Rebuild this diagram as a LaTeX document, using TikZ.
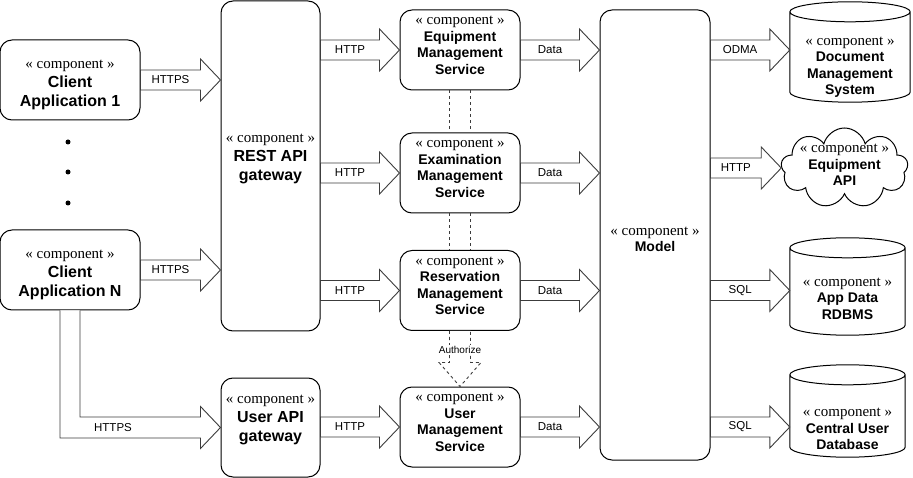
\documentclass[tikz,border=0pt]{standalone}
\usepackage{fontspec}
\setmainfont{Liberation Sans}
\newfontfamily\stereofont{Liberation Serif}
\usetikzlibrary{shapes.symbols, calc, positioning}

\definecolor{arrowgray}{RGB}{60,60,60}

\newcommand{\stereo}{{\normalfont\stereofont\fontsize{15}{17}\selectfont « component »}}

% hollow block arrow: start, tip, label
\newcommand{\blockarrow}[3]{%
  \draw[blockline] let \p1=(#1), \p2=(#2) in
    (\x1,\y1+10pt) -- (\x2-20pt,\y1+10pt) -- (\x2-20pt,\y1+21pt) -- (\x2,\y1)
    -- (\x2-20pt,\y1-21pt) -- (\x2-20pt,\y1-10pt) -- (\x1,\y1-10pt) -- cycle
    ({(\x1+\x2-20pt)/2},\y1) node[arrowlabel] {#3};
}

% database outline round a node
\newcommand{\dbshape}[1]{%
  \draw[dbline] let \p1=(#1.north west), \p2=(#1.south east), \n1={(\x2-\x1)/2} in
    (\x1,\y1-10pt) -- (\x1,\y2+10pt) arc[start angle=180, end angle=360, x radius={\n1*1pt}, y radius=10pt]
    -- (\x2,\y1-10pt) arc[start angle=0, end angle=180, x radius={\n1*1pt}, y radius=10pt] -- cycle
    (\x1,\y1-10pt) arc[start angle=180, end angle=360, x radius={\n1*1pt}, y radius=10pt];
}

\tikzset{
  comp/.style={draw, rounded corners=12pt, inner sep=0pt, align=center, line width=1pt, fill=white},
  bigfont/.style={font=\fontsize{16}{19}\selectfont\bfseries},
  svcfont/.style={font=\fontsize{14}{16.5}\selectfont\bfseries},
  dbnode/.style={inner sep=0pt, align=center, svcfont},
  dbline/.style={draw, line width=1pt},
  blockline/.style={draw=arrowgray, line width=0.9pt, fill=white, line join=miter},
  arrowlabel/.style={font=\fontsize{11.5}{13}\selectfont, inner sep=0pt},
  dashline/.style={draw=arrowgray, line width=0.9pt, dash pattern=on 3pt off 3pt},
  dot/.style={circle, fill, inner sep=0pt, minimum size=5pt},
}

\begin{document}
\begin{tikzpicture}[x=1pt, y=-1pt]
  \useasboundingbox (0,0) rectangle (913,478);

  % Clients
  \node[comp, bigfont, minimum width=140pt, minimum height=80pt, text height=57pt] (c1) at (70,80) {\stereo\\Client\\Application 1};
  \node[comp, bigfont, minimum width=140pt, minimum height=80pt, text height=57pt] (cN) at (70,270) {\stereo\\Client\\Application N};
  \node[dot] (dot1) at (68,142) {};
  \node[dot] (dot2) at (68,172) {};
  \node[dot] (dot3) at (68,203) {};

  % Gateways
  \node[comp, bigfont, minimum width=99pt, minimum height=330pt, text depth=18pt] (gw) at (270.5,166) {\stereo\\REST API\\gateway};
  \node[comp, bigfont, minimum width=99pt, minimum height=99pt, text depth=18pt] (ugw) at (270.5,427.5) {\stereo\\User API\\gateway};

  % Services
  \node[comp, svcfont, minimum width=120pt, minimum height=80pt, text depth=9pt] (eq) at (460,50) {\stereo\\Equipment\\Management\\Service};
  \node[comp, svcfont, minimum width=120pt, minimum height=80pt, text depth=9pt] (ex) at (460,173) {\stereo\\Examination\\Management\\Service};
  \node[comp, svcfont, minimum width=120pt, minimum height=80pt, text depth=9pt] (res) at (460,290.5) {\stereo\\Reservation\\Management\\Service};
  \node[comp, svcfont, minimum width=120pt, minimum height=80pt, text depth=9pt] (usr) at (460,427) {\stereo\\User\\Management\\Service};

  % Model
  \node[comp, svcfont, minimum width=110pt, minimum height=450pt, text height=34pt] (model) at (655,235) {\stereo\\Model};

  % Back ends
  \node[dbnode, minimum width=120pt, minimum height=100pt, text height=88pt] (dms) at (850,52) {\stereo\\Document\\Management\\System};
  \dbshape{dms}
  \node[cloud, draw, cloud puffs=9, aspect=1.7, minimum width=127pt, minimum height=80pt, inner sep=0pt, line width=1pt,
    label={[svcfont, align=center, inner sep=0pt, yshift=3pt]center:{\stereo\\Equipment\\API}}] (api) at (844.5,168) {};
  \node[dbnode, minimum width=115pt, minimum height=97pt, text height=66pt] (rdbms) at (847.5,286.5) {\stereo\\App Data\\RDBMS};
  \dbshape{rdbms}
  \node[dbnode, minimum width=115pt, minimum height=92pt, text height=78pt] (cudb) at (847.5,411) {\stereo\\Central User\\Database};
  \dbshape{cudb}

  % Client links
  \blockarrow{c1.east}{gw.west |- c1.east}{HTTPS}
  \blockarrow{cN.east}{gw.west |- cN.east}{HTTPS}
  \draw[blockline] let \p1=(cN.south), \p2=(ugw.west) in
    (\x1-10pt,\y1) |- (\x2-20pt,\y2-10.5pt) -- (\x2-20pt,\y2-21pt) -- (\x2,\y2)
    -- (\x2-20pt,\y2+21pt) -- (\x2-20pt,\y2+10.5pt) -| (\x1+10pt,\y1)
    ({\x1+43pt},\y2) node[arrowlabel] {HTTPS};

  % Gateway to services
  \blockarrow{gw.east |- eq.west}{eq.west}{HTTP}
  \blockarrow{gw.east |- ex.west}{ex.west}{HTTP}
  \blockarrow{gw.east |- res.west}{res.west}{HTTP}
  \blockarrow{ugw.east |- usr.west}{usr.west}{HTTP}

  % Services to model
  \blockarrow{eq.east}{model.west |- eq.east}{Data}
  \blockarrow{ex.east}{model.west |- ex.east}{Data}
  \blockarrow{res.east}{model.west |- res.east}{Data}
  \blockarrow{usr.east}{model.west |- usr.east}{Data}

  % Model to back ends
  \blockarrow{model.east |- eq.east}{dms.west |- eq.east}{ODMA}
  \blockarrow{model.east |- api.west}{api.west}{HTTP}
  \blockarrow{model.east |- res.east}{rdbms.west |- res.east}{SQL}
  \blockarrow{model.east |- usr.east}{cudb.west |- usr.east}{SQL}

  % Dashed links between services
  \draw[dashline] ($(eq.south)+(-10.5,0)$) -- ($(ex.north)+(-10.5,0)$);
  \draw[dashline] ($(eq.south)+(10.5,0)$) -- ($(ex.north)+(10.5,0)$);
  \draw[dashline] ($(ex.south)+(-10.5,0)$) -- ($(res.north)+(-10.5,0)$);
  \draw[dashline] ($(ex.south)+(10.5,0)$) -- ($(res.north)+(10.5,0)$);
  \draw[blockline, dash pattern=on 3pt off 3pt] let \p1=(res.south), \p2=(usr.north) in
    (\x1-10.5pt,\y1) -- (\x1-10.5pt,\y2+24pt) -- (\x1-21pt,\y2+24pt) -- (\x1,\y2)
    -- (\x1+21pt,\y2+24pt) -- (\x1+10.5pt,\y2+24pt) -- (\x1+10.5pt,\y1)
    (\x1,\y1-19pt) node[arrowlabel, font=\fontsize{10}{12}\selectfont, fill=white, inner sep=1pt] {Authorize};
\end{tikzpicture}
\end{document}
